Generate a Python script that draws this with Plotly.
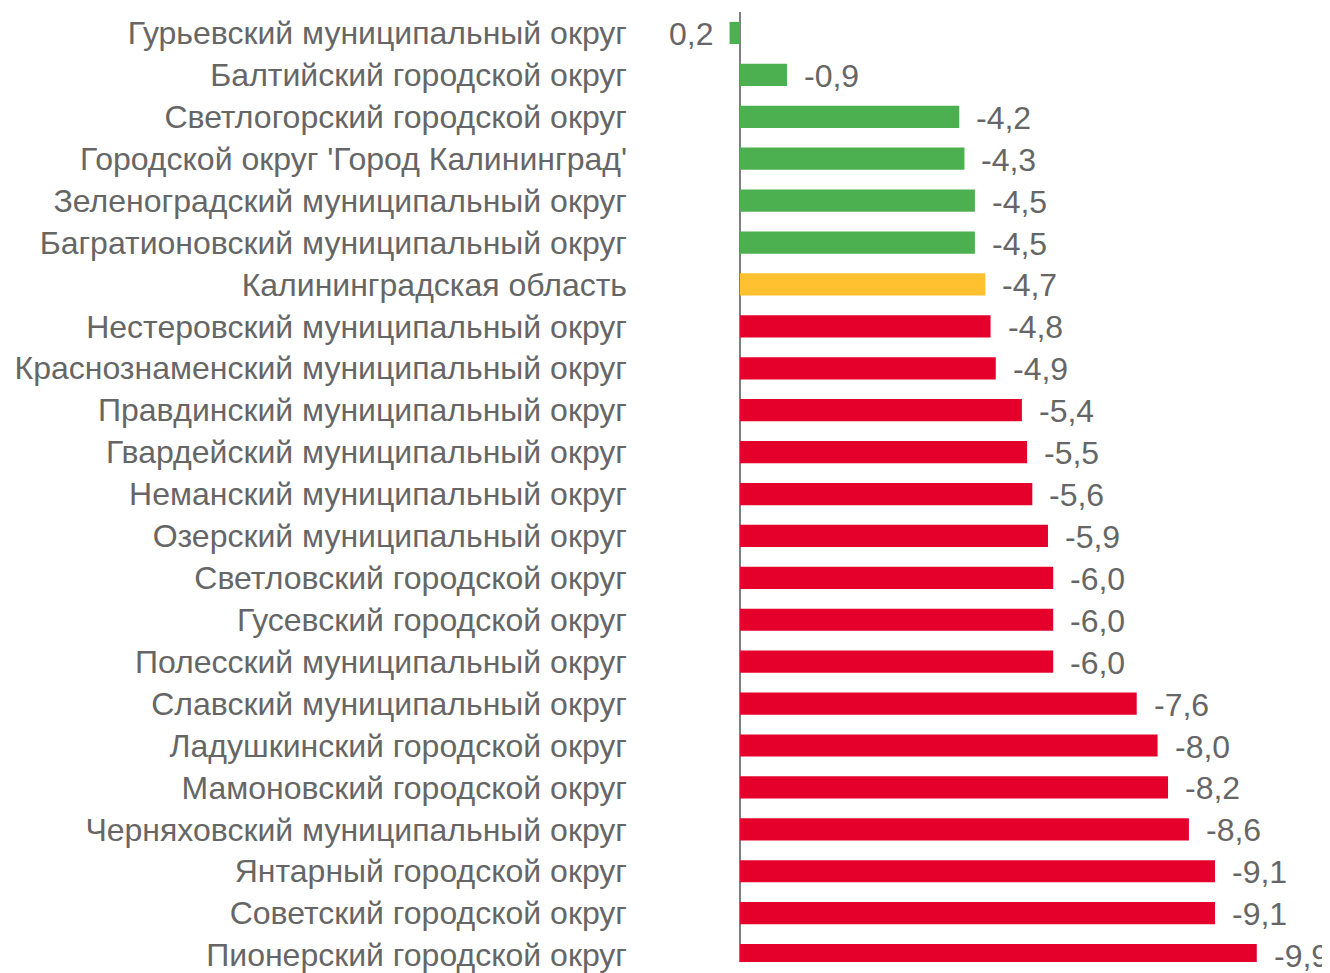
import plotly.graph_objects as go

categories = [
    "Гурьевский муниципальный округ",
    "Балтийский городской округ",
    "Светлогорский городской округ",
    "Городской округ 'Город Калининград'",
    "Зеленоградский муниципальный округ",
    "Багратионовский муниципальный округ",
    "Калининградская область",
    "Нестеровский муниципальный округ",
    "Краснознаменский муниципальный округ",
    "Правдинский муниципальный округ",
    "Гвардейский муниципальный округ",
    "Неманский муниципальный округ",
    "Озерский муниципальный округ",
    "Светловский городской округ",
    "Гусевский городской округ",
    "Полесский муниципальный округ",
    "Славский муниципальный округ",
    "Ладушкинский городской округ",
    "Мамоновский городской округ",
    "Черняховский муниципальный округ",
    "Янтарный городской округ",
    "Советский городской округ",
    "Пионерский городской округ",
]
values = [0.2, -0.9, -4.2, -4.3, -4.5, -4.5, -4.7, -4.8, -4.9, -5.4, -5.5, -5.6,
          -5.9, -6.0, -6.0, -6.0, -7.6, -8.0, -8.2, -8.6, -9.1, -9.1, -9.9]
groups = ["green"] * 6 + ["yellow"] + ["red"] * 16

palette = {"green": "#4CAF50", "yellow": "#FFC12F", "red": "#E4002B"}
colors = [palette[g] for g in groups]
labels = [f"{v:.1f}".replace(".", ",") for v in values]

FONT = "Liberation Sans, Arial, sans-serif"
TEXT_COLOR = "#666666"
FONT_SIZE = 32

fig = go.Figure()
fig.add_trace(go.Bar(
    x=values, y=categories, orientation="h",
    marker=dict(color=colors, line=dict(width=0)),
    hoverinfo="skip",
))

for c, v, t in zip(categories, values, labels):
    fig.add_annotation(
        x=v, y=c, text=t, showarrow=False,
        xanchor="left" if v < 0 else "right",
        xshift=15 if v < 0 else -15,
        yshift=-1,
        font=dict(family=FONT, size=FONT_SIZE, color=TEXT_COLOR),
    )

# figure coordinates (page adds an 8px body margin)
W, H = 1322, 965
px_per_unit = 52.2
plot_left = 632
zero_px = 732
top = 4
left_val = (zero_px - plot_left) / px_per_unit
right_val = -(W - zero_px) / px_per_unit
pitch = 42.4
bottom_val = -0.5 + (H - top) / pitch

fig.update_layout(
    width=W, height=H,
    margin=dict(l=plot_left, r=0, t=top, b=0, pad=0),
    plot_bgcolor="white", paper_bgcolor="white",
    bargap=0.47,
    showlegend=False,
    xaxis=dict(range=[left_val, right_val], showgrid=False, showticklabels=False,
               zeroline=True, zerolinecolor="#7F7F7F", zerolinewidth=2,
               showline=False, fixedrange=True),
    yaxis=dict(range=[bottom_val, -0.5], showgrid=False, zeroline=False, showline=False,
               ticks="", ticklabelstandoff=12,
               tickfont=dict(family=FONT, size=FONT_SIZE, color=TEXT_COLOR),
               fixedrange=True),
)

fig.write_html("out.html")
